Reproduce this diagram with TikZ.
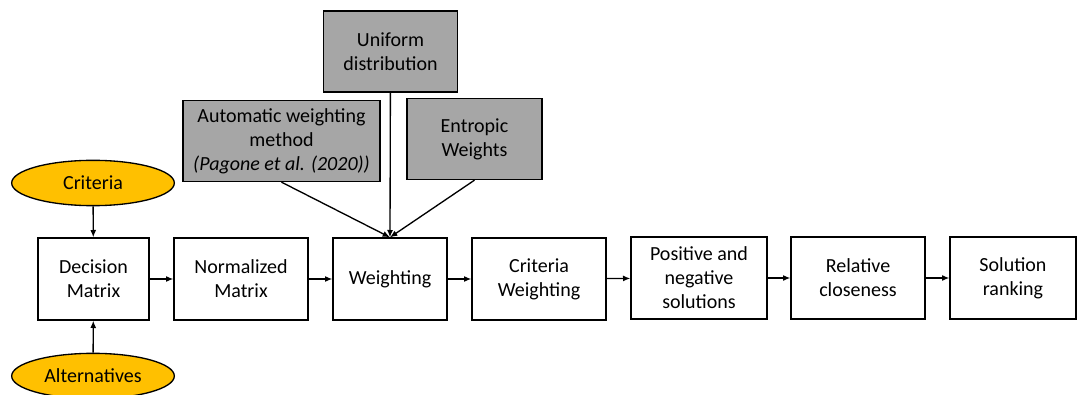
\documentclass[tikz,border=0pt]{standalone}
\usepackage{fontspec}
\setmainfont{Carlito}
\usetikzlibrary{shapes.geometric}
\usetikzlibrary{arrows.meta}
\definecolor{boxgray}{HTML}{A6A6A6}
\definecolor{ovalgold}{HTML}{FFC000}
\tikzset{stage/.style={rectangle, draw, line width=1pt, align=center,
   minimum width=100.5pt, minimum height=61.5pt, inner sep=2pt,
   font=\fontsize{15}{18}\selectfont}}
\tikzset{source/.style={stage, fill=boxgray, minimum height=60.75pt}}
\tikzset{input/.style={ellipse, draw, line width=1pt, fill=ovalgold,
   minimum width=122pt, minimum height=34pt, inner sep=0pt,
   font=\fontsize{15}{18}\selectfont}}
\tikzset{flow/.style={-{Latex[length=5.5pt,width=4.5pt]}, line width=1pt}}

\begin{document}
\begin{tikzpicture}[x=0.75pt, y=-0.75pt]

  \useasboundingbox (0,0) rectangle (1077,395);

  % main chain
  \node[stage, minimum width=83.25pt] (decision) at (93.5,279) {Decision\\Matrix};
  \node[stage] (normalized) at (241,279) {Normalized\\Matrix};
  \node[stage, minimum width=85.5pt] (weighting) at (390,279) {Weighting};
  \node[stage] (critweight) at (539,279) {Criteria\\Weighting};
  \node[stage, minimum width=102pt] (posneg) at (699,278) {Positive and\\negative\\solutions};
  \node[stage] (closeness) at (858,278) {Relative\\closeness};
  \node[stage, minimum width=94.5pt] (ranking) at (1013,278) {Solution\\ranking};

  % inputs
  \node[input] (criteria) at (93,183) {Criteria};
  \node[input] (alternatives) at (93,376) {Alternatives};

  % weighting methods
  \node[source] (uniform) at (390.5,51.5) {Uniform\\distribution};
  \node[source, minimum width=147.75pt] (automatic) at (281.5,141) {Automatic weighting\\method\\\textit{(Pagone et al. (2020))}};
  \node[source, minimum width=101.25pt] (entropic) at (474.5,139) {Entropic\\Weights};

  \draw[flow] (criteria) -- (decision);
  \draw[flow] (alternatives) -- (decision);
  \draw[flow] (decision) -- (normalized);
  \draw[flow] (normalized) -- (weighting);
  \draw[flow] (weighting) -- (critweight);
  \draw[flow] (critweight) -- (posneg);
  \draw[flow] (posneg) -- (closeness);
  \draw[flow] (closeness) -- (ranking);

  \draw[flow] (uniform) -- (weighting.north);
  \draw[flow] (automatic.south) -- (weighting.north);
  \draw[flow] (entropic.south) -- (weighting.north);

\end{tikzpicture}
\end{document}
